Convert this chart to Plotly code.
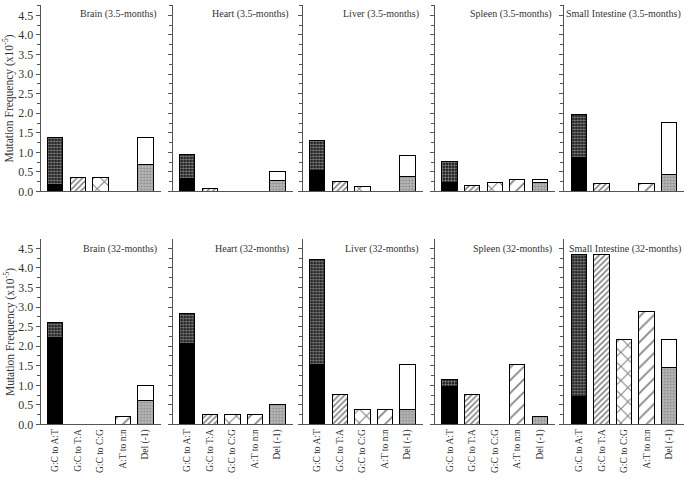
import plotly.graph_objects as go

tissues = ["Brain", "Heart", "Liver", "Spleen", "Small Intestine"]
ages = ["3.5-months", "32-months"]
categories = ["G:C to A:T", "G:C to T:A", "G:C to C:G", "A:T to n:n", "Del (-1)"]
y_tickvals = [0.0, 0.5, 1.0, 1.5, 2.0, 2.5, 3.0, 3.5, 4.0, 4.5]

# 3.5-months
gcat_total_35 = [1.38, 0.94, 1.30, 0.77, 1.97]
gcat_black_35 = [0.17, 0.34, 0.53, 0.23, 0.88]
gcta_35 = [0.35, 0.08, 0.26, 0.15, 0.21]
gccg_35 = [0.35, 0.0, 0.13, 0.23, 0.0]
atnn_35 = [0.0, 0.0, 0.0, 0.31, 0.21]
del_total_35 = [1.38, 0.52, 0.91, 0.31, 1.77]
del_gray_35 = [0.68, 0.27, 0.39, 0.23, 0.44]

# 32-months
gcat_total_32 = [2.61, 2.83, 4.21, 1.15, 4.34]
gcat_black_32 = [2.22, 2.07, 1.53, 0.97, 0.72]
gcta_32 = [0.0, 0.26, 0.77, 0.77, 4.34]
gccg_32 = [0.0, 0.26, 0.38, 0.0, 2.18]
atnn_32 = [0.21, 0.26, 0.38, 1.52, 2.89]
del_total_32 = [0.99, 0.51, 1.52, 0.19, 2.18]
del_gray_32 = [0.60, 0.51, 0.38, 0.19, 1.45]

rows = [
    (gcat_total_35, gcat_black_35, gcta_35, gccg_35, atnn_35, del_total_35, del_gray_35),
    (gcat_total_32, gcat_black_32, gcta_32, gccg_32, atnn_32, del_total_32, del_gray_32),
]

W, H = 690, 480
FONT = "Liberation Serif"
panel_left = [40.7, 172.7, 302.7, 435.0, 564.3]
panel_w = 120.0
row_zero = [194.3, 430.7]
px_per_unit = 39.7
row_top = [5.0, 242.7]
xr = [-0.65, 4.68]
bw = 0.68

fig = go.Figure()

def pat(shape, size, sol, fg="black", bg="white"):
    return dict(shape=shape, size=size, solidity=sol, fgcolor=fg, bgcolor=bg, fillmode="overlay")

line = dict(color="black", width=1)

for r in range(2):
    gt, gb, ta, cg, nn, dt, dg = rows[r]
    for c in range(5):
        idx = r * 5 + c + 1
        xa = "x" if idx == 1 else f"x{idx}"
        ya = "y" if idx == 1 else f"y{idx}"
        def add(x, y, color, pattern=None):
            m = dict(color=color, line=line)
            if pattern:
                m["pattern"] = pattern
            fig.add_trace(go.Bar(x=[x], y=[y], width=bw, marker=m, xaxis=xa, yaxis=ya,
                                 showlegend=False, hoverinfo="skip"))
        add(0, gb[c], "black")
        add(0, gt[c] - gb[c], "black", pat(".", 3, 0.55, fg="white", bg="black"))
        if ta[c] > 0:
            add(1, ta[c], "white", pat("/", 4, 0.38))
        if cg[c] > 0:
            add(2, cg[c], "white", pat("x", 10, 0.2))
        if nn[c] > 0:
            add(3, nn[c], "white", pat("/", 9, 0.18))
        add(4, dg[c], "#b0b0b0", pat(".", 3, 0.35, fg="#555555", bg="#b8b8b8"))
        if dt[c] - dg[c] > 0:
            add(4, dt[c] - dg[c], "white")

        x0 = panel_left[c] / W
        x1 = (panel_left[c] + panel_w) / W
        y0 = (H - row_zero[r]) / H
        y1 = (H - row_top[r]) / H
        ymax = (row_zero[r] - row_top[r]) / px_per_unit
        xkey = "xaxis" if idx == 1 else f"xaxis{idx}"
        ykey = "yaxis" if idx == 1 else f"yaxis{idx}"
        xdict = dict(
            domain=[x0, x1], anchor=ya, range=xr, showgrid=False, zeroline=False,
            showline=True, linecolor="#555555", linewidth=1, ticks="",
            showticklabels=(r == 1),
        )
        if r == 1:
            xdict.update(tickmode="array", tickvals=list(range(5)), ticktext=categories,
                         tickangle=-90, tickfont=dict(family=FONT, size=9.5, color="#333333"))
        fig.layout[xkey] = xdict
        ydict = dict(
            domain=[y0, y1], anchor=xa, range=[0, ymax], showgrid=False, zeroline=False,
            showline=True, linecolor="#555555", linewidth=1,
            ticks="outside", ticklen=4, tickwidth=1, tickcolor="#555555",
            tickmode="array", tickvals=y_tickvals,
            showticklabels=(c == 0),
            minor=dict(ticks="outside", ticklen=3, tickcolor="#555555", dtick=0.25, tick0=0),
        )
        if c == 0:
            ydict.update(ticktext=[f"{v:.1f}" for v in y_tickvals],
                         tickfont=dict(family=FONT, size=12, color="#333333"))
        fig.layout[ykey] = ydict
        fig.add_annotation(
            x=1, y=1, xref=f"{xa} domain", yref=f"{ya} domain",
            xanchor="right", yanchor="top", xshift=-1.5, yshift=-1.5,
            text=f"{tissues[c]} ({ages[r]})", showarrow=False,
            font=dict(family=FONT, size=10, color="#333333"),
        )

for r, yc in enumerate([100, 337]):
    fig.add_annotation(
        x=9 / W, y=(H - yc) / H, xref="paper", yref="paper",
        text="Mutation Frequency (x10<sup>-5</sup>)", textangle=-90, showarrow=False,
        xanchor="center", yanchor="middle",
        font=dict(family=FONT, size=11.5, color="#333333"),
    )

fig.update_layout(
    barmode="stack", width=W, height=H,
    margin=dict(l=0, r=0, t=0, b=0),
    paper_bgcolor="white", plot_bgcolor="white",
    bargap=0,
)

fig.write_html(
    "out.html",
    config={"displayModeBar": False, "staticPlot": True},
    post_script="document.body.style.margin='0';document.body.style.overflow='hidden';",
)
